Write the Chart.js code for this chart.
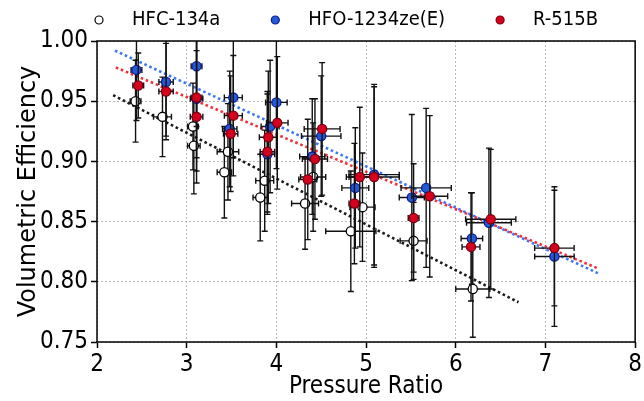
<!DOCTYPE html>
<html>
<head>
<meta charset="utf-8">
<script src="https://cdn.jsdelivr.net/npm/chart.js@4.4.0/dist/chart.umd.min.js"></script>
<style>
    html, body { margin: 0; padding: 0; background: #fff; }
    #wrap { width: 644px; height: 401px; position: relative; }
</style>
</head>
<body>
<div id="wrap"><canvas id="chart"></canvas></div>
<script>
// --- Data ---
const seriesNames = ['HFC-134a', 'HFO-1234ze(E)', 'R-515B'];

const hfcX    = [2.43, 2.73, 3.07, 3.08, 3.42, 3.46, 3.82, 3.87, 4.32, 4.41, 4.83, 4.96, 5.53, 6.19];
const hfcY    = [0.950, 0.937, 0.929, 0.913, 0.891, 0.908, 0.870, 0.884, 0.865, 0.887, 0.842, 0.862, 0.834, 0.794];
const hfcXErr = [0.06, 0.10, 0.06, 0.07, 0.08, 0.12, 0.08, 0.10, 0.15, 0.14, 0.28, 0.14, 0.15, 0.19];
const hfcYErr = [0.034, 0.033, 0.036, 0.040, 0.038, 0.040, 0.036, 0.042, 0.038, 0.045, 0.050, 0.045, 0.032, 0.040];

const hfoX    = [2.44, 2.77, 3.11, 3.11, 3.48, 3.52, 3.90, 3.93, 4.00, 4.40, 4.50, 4.88, 5.09, 5.51, 5.67, 6.18, 6.37, 7.10];
const hfoY    = [0.976, 0.966, 0.979, 0.952, 0.927, 0.953, 0.906, 0.929, 0.949, 0.904, 0.921, 0.878, 0.889, 0.870, 0.878, 0.836, 0.849, 0.821];
const hfoXErr = [0.06, 0.08, 0.06, 0.07, 0.08, 0.10, 0.08, 0.10, 0.12, 0.14, 0.22, 0.15, 0.28, 0.14, 0.28, 0.12, 0.25, 0.22];
const hfoYErr = [0.042, 0.045, 0.050, 0.060, 0.048, 0.050, 0.050, 0.055, 0.055, 0.048, 0.050, 0.050, 0.075, 0.069, 0.066, 0.038, 0.062, 0.058];

const rX    = [2.46, 2.77, 3.11, 3.11, 3.49, 3.52, 3.90, 3.91, 4.01, 4.35, 4.43, 4.51, 4.87, 4.93, 5.09, 5.53, 5.71, 6.17, 6.39, 7.10];
const rY    = [0.963, 0.958, 0.953, 0.937, 0.923, 0.938, 0.908, 0.920, 0.932, 0.885, 0.902, 0.927, 0.865, 0.887, 0.887, 0.853, 0.871, 0.829, 0.852, 0.828];
const rXErr = [0.06, 0.08, 0.06, 0.07, 0.08, 0.10, 0.08, 0.10, 0.12, 0.10, 0.14, 0.20, 0.06, 0.15, 0.28, 0.06, 0.20, 0.10, 0.28, 0.22];
const rYErr = [0.027, 0.040, 0.050, 0.055, 0.048, 0.050, 0.050, 0.055, 0.055, 0.050, 0.050, 0.055, 0.050, 0.058, 0.075, 0.045, 0.067, 0.045, 0.058, 0.048];

// dotted linear fits (end points)
const fitHfcX = [2.18, 6.70];
const fitHfcY = [0.955, 0.783];
const fitHfoX = [2.20, 7.59];
const fitHfoY = [0.992, 0.807];
const fitRX   = [2.21, 7.59];
const fitRY   = [0.978, 0.811];

const xTicks = [2, 3, 4, 5, 6, 7, 8];
const yTicks = [0.75, 0.80, 0.85, 0.90, 0.95, 1.00];

const FONT_COND = "'DejaVu Sans Condensed', 'DejaVu Sans', sans-serif";
const FONT_REG = "'DejaVu Sans', sans-serif";

Chart.defaults.font.family = FONT_COND;
Chart.defaults.color = '#000';

function pts(xs, ys) {
    return xs.map((x, i) => ({ x: x, y: ys[i] }));
}

// error bars drawn just before each dataset's markers
const errorBars = {
    id: 'errorBars',
    beforeDatasetDraw(chart, args) {
        const ds = chart.data.datasets[args.index];
        if (!ds.yErr) return;
        const { ctx, chartArea, scales: { x, y } } = chart;
        ctx.save();
        ctx.beginPath();
        ctx.rect(chartArea.left, chartArea.top, chartArea.right - chartArea.left, chartArea.bottom - chartArea.top);
        ctx.clip();
        ctx.strokeStyle = '#111';
        ctx.lineWidth = 1.4;
        const cap = 3;
        ds.data.forEach((p, i) => {
            const px = x.getPixelForValue(p.x);
            const py = y.getPixelForValue(p.y);
            const x0 = x.getPixelForValue(p.x - ds.xErr[i]);
            const x1 = x.getPixelForValue(p.x + ds.xErr[i]);
            const y0 = y.getPixelForValue(p.y - ds.yErr[i]);
            const y1 = y.getPixelForValue(p.y + ds.yErr[i]);
            ctx.beginPath();
            ctx.moveTo(px, y0); ctx.lineTo(px, y1);
            ctx.moveTo(x0, py); ctx.lineTo(x1, py);
            ctx.moveTo(px - cap, y0); ctx.lineTo(px + cap, y0);
            ctx.moveTo(px - cap, y1); ctx.lineTo(px + cap, y1);
            ctx.moveTo(x0, py - cap); ctx.lineTo(x0, py + cap);
            ctx.moveTo(x1, py - cap); ctx.lineTo(x1, py + cap);
            ctx.stroke();
        });
        ctx.restore();
    }
};

// frame on all four sides + legend row on top
const frameAndLegend = {
    id: 'frameAndLegend',
    afterDraw(chart) {
        const { ctx, chartArea: a } = chart;
        ctx.save();
        ctx.strokeStyle = '#000';
        ctx.lineWidth = 1.5;
        ctx.strokeRect(a.left, a.top, a.right - a.left, a.bottom - a.top);

        ctx.font = '20px ' + FONT_COND;
        ctx.textBaseline = 'middle';
        ctx.textAlign = 'left';
        let cx = 99;
        const cy = 20;
        chart.data.datasets.forEach(ds => {
            if (!ds.yErr) return;
            ctx.beginPath();
            ctx.arc(cx, cy, 4, 0, Math.PI * 2);
            ctx.fillStyle = ds.backgroundColor;
            ctx.fill();
            ctx.lineWidth = 1.2;
            ctx.strokeStyle = ds.borderColor;
            ctx.stroke();
            ctx.fillStyle = '#000';
            ctx.fillText(ds.label, cx + 33, cy);
            cx += 33 + ctx.measureText(ds.label).width + 55;
        });
        ctx.restore();
    }
};

const ctx = document.getElementById('chart').getContext('2d');
new Chart(ctx, {
    type: 'scatter',
    data: {
        datasets: [
            {
                label: seriesNames[0], data: pts(hfcX, hfcY), xErr: hfcXErr, yErr: hfcYErr,
                backgroundColor: '#ffffff', borderColor: '#000000', borderWidth: 1.3,
                pointRadius: 4.6, pointHoverRadius: 4.6, order: 3
            },
            {
                label: seriesNames[1], data: pts(hfoX, hfoY), xErr: hfoXErr, yErr: hfoYErr,
                backgroundColor: '#2459d8', borderColor: '#0b1e8c', borderWidth: 1.3,
                pointRadius: 4.6, pointHoverRadius: 4.6, order: 2
            },
            {
                label: seriesNames[2], data: pts(rX, rY), xErr: rXErr, yErr: rYErr,
                backgroundColor: '#d5001e', borderColor: '#7a0010', borderWidth: 1.3,
                pointRadius: 4.6, pointHoverRadius: 4.6, order: 1
            },
            {
                label: 'fit HFC', data: pts(fitHfcX, fitHfcY), showLine: true, pointRadius: 0,
                borderColor: '#1a1a1a', borderWidth: 2.6, borderDash: [2.6, 2.8], order: 6
            },
            {
                label: 'fit HFO', data: pts(fitHfoX, fitHfoY), showLine: true, pointRadius: 0,
                borderColor: '#3c78f0', borderWidth: 2.6, borderDash: [2.6, 2.8], order: 5
            },
            {
                label: 'fit R', data: pts(fitRX, fitRY), showLine: true, pointRadius: 0,
                borderColor: '#f2303a', borderWidth: 2.6, borderDash: [2.6, 2.8], order: 4
            }
        ]
    },
    options: {
        responsive: true,
        maintainAspectRatio: false,
        animation: false,
        devicePixelRatio: 1,
        layout: { padding: { top: 41, right: 6, left: 0, bottom: 0 } },
        plugins: {
            legend: { display: false },
            tooltip: { enabled: false }
        },
        scales: {
            x: {
                type: 'linear', min: 2, max: 8,
                afterBuildTicks: s => { s.ticks = xTicks.map(v => ({ value: v })); },
                afterFit: s => { s.height = 59; },
                ticks: { font: { size: 24 }, padding: 2, color: '#000' },
                grid: { color: '#b8b8b8', lineWidth: 1, tickLength: 6, tickColor: '#000', tickWidth: 1.5, tickBorderDash: [] },
                border: { display: false, dash: [2, 2] },
                title: { display: true, text: 'Pressure Ratio', font: { size: 24, lineHeight: 1 }, padding: { top: 0, bottom: 2 }, color: '#000' }
            },
            y: {
                type: 'linear', min: 0.75, max: 1.0,
                afterBuildTicks: s => { s.ticks = yTicks.map(v => ({ value: v })); },
                afterFit: s => { s.width = 97; },
                ticks: { font: { size: 24 }, padding: 3, color: '#000', callback: v => v.toFixed(2) },
                grid: { color: '#b8b8b8', lineWidth: 1, tickLength: 6, tickColor: '#000', tickWidth: 1.5, tickBorderDash: [] },
                border: { display: false, dash: [2, 2] },
                title: { display: true, text: 'Volumetric Efficiency', font: { family: FONT_REG, size: 24, lineHeight: 1 }, padding: { top: 17, bottom: 0 }, color: '#000' }
            }
        }
    },
    plugins: [errorBars, frameAndLegend]
});
</script>
</body>
</html>
